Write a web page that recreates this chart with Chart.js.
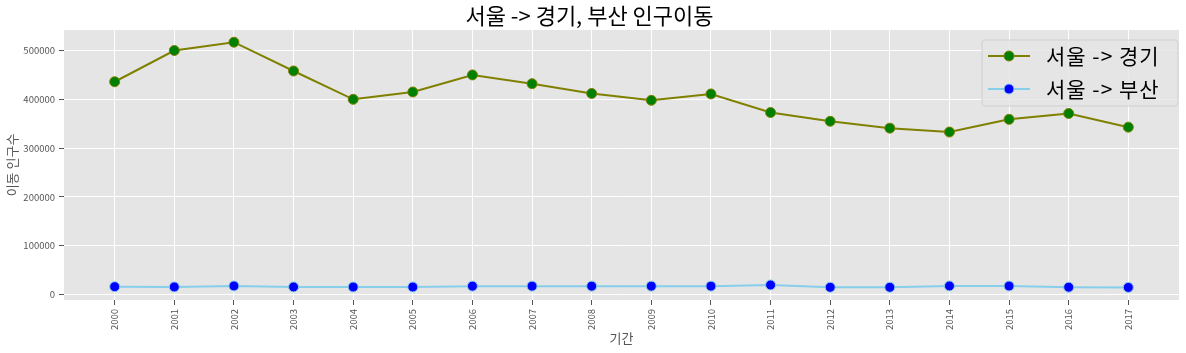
<!DOCTYPE html>
<html>
<head>
<meta charset="utf-8">
<script src="https://cdn.jsdelivr.net/npm/chart.js@4"></script>
<style>
    html, body { margin: 0; padding: 0; background: #ffffff; }
    #wrap { width: 1186px; height: 353px; }
</style>
</head>
<body>
<div id="wrap"><canvas id="chart"></canvas></div>
<script>
// ─── Data ─────────────────────────────────────────────────────────────────────
const years = ['2000', '2001', '2002', '2003', '2004', '2005', '2006', '2007', '2008',
               '2009', '2010', '2011', '2012', '2013', '2014', '2015', '2016', '2017'];
const seoulGyeonggi = [436000, 500000, 517000, 458000, 400000, 415000, 450000, 432000, 412000,
                       398000, 411000, 373000, 355000, 341000, 333000, 359000, 371000, 343000];
const seoulBusan = [16300, 15800, 17800, 15800, 15600, 15600, 17400, 17400, 17400,
                    17400, 17400, 19800, 15000, 15000, 17800, 17600, 15200, 14800];
const yTicks = [0, 100000, 200000, 300000, 400000, 500000];

const FONT = '"Noto Sans CJK KR", "Noto Sans", sans-serif';
const TICK_GREY = '#555555';

const toPoints = (arr) => arr.map((v, i) => ({ x: i, y: v }));

// ─── Plot background (ggplot style) ───────────────────────────────────────────
const plotBackground = {
    id: 'plotBackground',
    beforeDraw(chart) {
        const { ctx, chartArea: a } = chart;
        ctx.save();
        ctx.fillStyle = '#e5e5e5';
        ctx.fillRect(a.left, a.top, a.right - a.left, a.bottom - a.top);
        ctx.restore();
    }
};

// ─── Legend box, matplotlib look ──────────────────────────────────────────────
const lineLegend = {
    id: 'lineLegend',
    afterDraw(chart) {
        const { ctx } = chart;
        const x = 982, y = 40, w = 196, h = 66;
        ctx.save();
        ctx.beginPath();
        ctx.roundRect(x, y, w, h, 3);
        ctx.fillStyle = 'rgba(229,229,229,0.8)';
        ctx.fill();
        ctx.strokeStyle = 'rgba(204,204,204,0.8)';
        ctx.lineWidth = 1;
        ctx.stroke();

        chart.data.datasets.forEach((ds, i) => {
            const cy = 56 + i * 33;
            ctx.beginPath();
            ctx.moveTo(988, cy);
            ctx.lineTo(1030, cy);
            ctx.strokeStyle = ds.borderColor;
            ctx.lineWidth = 2;
            ctx.stroke();

            ctx.beginPath();
            ctx.arc(1009, cy, 5, 0, Math.PI * 2);
            ctx.fillStyle = ds.pointBackgroundColor;
            ctx.fill();
            ctx.strokeStyle = ds.pointBorderColor;
            ctx.lineWidth = 1;
            ctx.stroke();

            ctx.fillStyle = '#000000';
            ctx.font = '21px ' + FONT;
            ctx.letterSpacing = '1px';
            ctx.textBaseline = 'middle';
            ctx.textAlign = 'left';
            ctx.fillText(ds.label, 1046, cy);
        });
        ctx.restore();
    }
};

// ─── Chart ────────────────────────────────────────────────────────────────────
new Chart(document.getElementById('chart'), {
    type: 'line',
    data: {
        datasets: [{
            label: '서울 -> 경기',
            data: toPoints(seoulGyeonggi),
            borderColor: '#808000',
            borderWidth: 2,
            pointRadius: 5,
            pointBorderWidth: 1,
            pointBackgroundColor: '#008000',
            pointBorderColor: '#808000',
            tension: 0
        }, {
            label: '서울 -> 부산',
            data: toPoints(seoulBusan),
            borderColor: '#87ceeb',
            borderWidth: 2,
            pointRadius: 5,
            pointBorderWidth: 1,
            pointBackgroundColor: '#0000ff',
            pointBorderColor: '#87ceeb',
            tension: 0
        }]
    },
    options: {
        responsive: true,
        maintainAspectRatio: false,
        animation: false,
        layout: { padding: { top: 0, right: 7, bottom: 0, left: 0 } },
        scales: {
            x: {
                type: 'linear',
                min: -0.85,
                max: 17.85,
                afterBuildTicks: (scale) => { scale.ticks = years.map((_, i) => ({ value: i })); },
                afterFit: (scale) => { scale.height = 53; },
                border: { display: false },
                grid: { color: '#ffffff', lineWidth: 1, tickColor: TICK_GREY, tickLength: 5 },
                ticks: {
                    autoSkip: false,
                    minRotation: 90,
                    maxRotation: 90,
                    padding: 4,
                    color: TICK_GREY,
                    font: { family: FONT, size: 9.5 },
                    callback: (v) => years[v]
                },
                title: {
                    display: true,
                    text: '기간',
                    color: TICK_GREY,
                    font: { family: FONT, size: 13 },
                    padding: { top: 0, bottom: 7 }
                }
            },
            y: {
                min: -11000,
                max: 542000,
                afterBuildTicks: (scale) => { scale.ticks = yTicks.map(v => ({ value: v })); },
                afterFit: (scale) => { scale.width = 64; },
                border: { display: false },
                grid: { color: '#ffffff', lineWidth: 1, tickColor: TICK_GREY, tickLength: 5 },
                ticks: {
                    padding: 4,
                    color: TICK_GREY,
                    font: { family: FONT, size: 9.5 },
                    callback: (v) => String(v)
                },
                title: {
                    display: true,
                    text: '이동 인구수',
                    color: TICK_GREY,
                    font: { family: FONT, size: 13 },
                    padding: { top: 4, bottom: 0 }
                }
            }
        },
        plugins: {
            legend: { display: false },
            tooltip: { enabled: false },
            title: {
                display: true,
                text: '서울 -> 경기, 부산 인구이동',
                color: '#000000',
                font: { family: FONT, size: 22, weight: 'normal' },
                padding: { top: 2, bottom: 1.6 }
            }
        }
    },
    plugins: [plotBackground, lineLegend]
});
</script>
</body>
</html>
